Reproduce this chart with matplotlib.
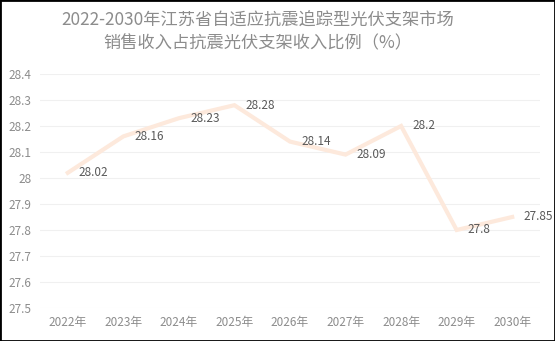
import matplotlib
matplotlib.use('Agg')
from matplotlib import pyplot as plt
from matplotlib.patches import Rectangle

plt.rcParams['font.family'] = ['Noto Sans CJK SC', 'DejaVu Sans']

years = ['2022年', '2023年', '2024年', '2025年', '2026年', '2027年', '2028年', '2029年', '2030年']
ratio = [28.02, 28.16, 28.23, 28.28, 28.14, 28.09, 28.2, 27.8, 27.85]
y_ticks = [27.5, 27.6, 27.7, 27.8, 27.9, 28, 28.1, 28.2, 28.3, 28.4]
title = '2022-2030年江苏省自适应抗震追踪型光伏支架市场\n销售收入占抗震光伏支架收入比例（%）'

fig = plt.figure(figsize=(5.55, 3.41), dpi=100)
ax = fig.add_axes([40 / 555, 1 - 308 / 341, 500 / 555, 234 / 341])

x = list(range(len(years)))
ax.plot(x, ratio, color='#fde9dc', linewidth=3, solid_joinstyle='miter', zorder=3)

# value labels sit just right of each point
for xi, v in zip(x, ratio):
    ax.annotate('{:g}'.format(v), (xi, v), xytext=(8, 0), textcoords='offset points',
                ha='left', va='center', fontsize=8.5, color='#595959')

ax.set_xlim(-0.5, len(years) - 0.5)
ax.set_ylim(27.5, 28.4)
ax.set_xticks(x)
ax.set_xticklabels(years)
ax.set_yticks(y_ticks)
ax.set_yticklabels(['{:g}'.format(t) for t in y_ticks])
ax.tick_params(axis='both', length=0, labelsize=8.5, colors='#8c8c8c')
ax.tick_params(axis='x', pad=6)
ax.tick_params(axis='y', pad=6)
ax.grid(axis='y', color='#f0f0f0', linewidth=0.8)
ax.set_axisbelow(True)
for s in ax.spines.values():
    s.set_visible(False)

fig.text(258 / 555, 1 - 32 / 341, title, ha='center', va='center', fontsize=12.4,
         color='#8c8c8c', linespacing=1.3)

# thin black frame around the whole chart
fig.patches.append(Rectangle((0, 0), 1, 1, transform=fig.transFigure, fill=False,
                             edgecolor='black', linewidth=2))

fig.savefig('out.png', dpi=100)
